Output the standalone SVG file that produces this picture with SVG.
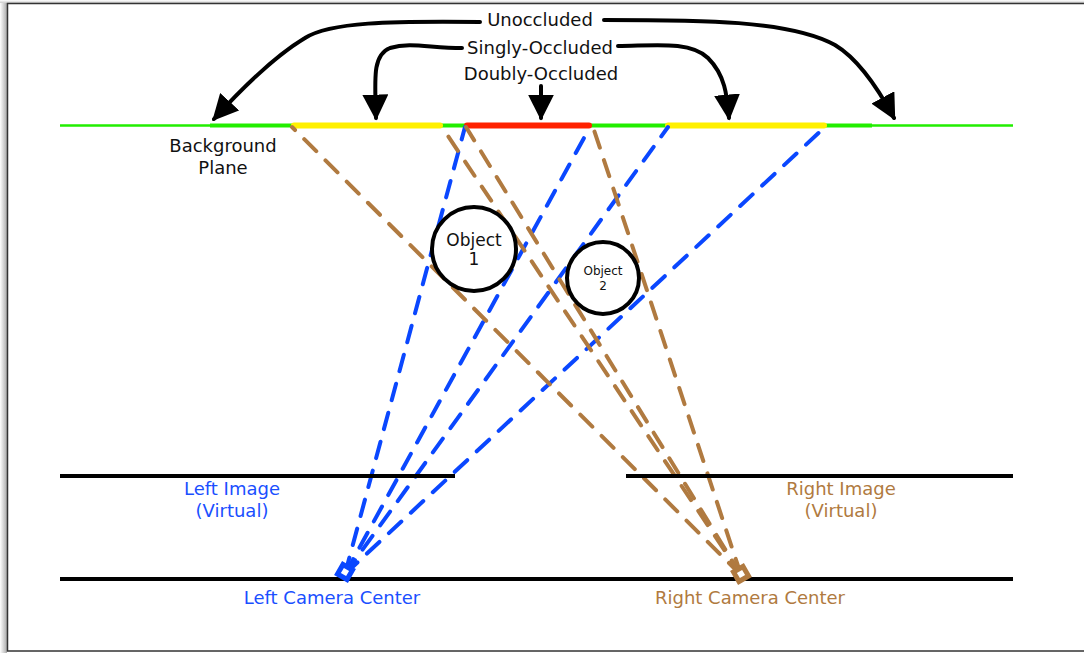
<svg xmlns="http://www.w3.org/2000/svg" width="1084" height="653" viewBox="0 0 1084 653">
<defs>
<linearGradient id="sh" x1="0" y1="0" x2="1" y2="0"><stop offset="0" stop-color="#fff"/><stop offset="1" stop-color="#aaa"/></linearGradient>
<linearGradient id="shT" x1="0" y1="0" x2="0" y2="1"><stop offset="0" stop-color="#fff"/><stop offset="1" stop-color="#ccc"/></linearGradient>
<marker id="ah" viewBox="0 0 10 10" refX="9" refY="5" markerWidth="6.5" markerHeight="6.5" orient="auto" markerUnits="strokeWidth"><path d="M0,0 L10,5 L0,10 z" fill="#000"/></marker>
</defs>
<style>
.t{font-family:"DejaVu Sans",Verdana,sans-serif;text-anchor:middle}
.blk{fill:#111;font-size:18px}
.bl{fill:#1a4fff;font-size:18px}
.br{fill:#b07a40;font-size:18px}
.arr{fill:none;stroke:#000;stroke-width:4;stroke-linecap:round;marker-end:url(#ah)}
.bd{stroke:#0a47ff;stroke-width:4;stroke-dasharray:17 13;stroke-linecap:round;fill:none}
.rd{stroke:#b07a40;stroke-width:4;stroke-dasharray:17 13;stroke-linecap:round;fill:none}
.ln{stroke:#000;stroke-width:4;fill:none}
</style>
<rect x="0" y="0" width="1084" height="653" fill="#fff"/>
<rect x="0" y="0" width="7" height="653" fill="url(#sh)"/>
<rect x="0" y="0" width="1084" height="3" fill="url(#shT)"/>
<rect x="7.5" y="3.5" width="1090" height="647.5" fill="#fff" stroke="#333" stroke-width="1.5"/>

<g id="plane">
<line x1="60" y1="125.5" x2="1013" y2="125.5" stroke="#22ee00" stroke-width="2.5"/>
<line x1="210" y1="125.5" x2="292" y2="125.5" stroke="#22ee00" stroke-width="4"/>
<line x1="440" y1="125.5" x2="466" y2="125.5" stroke="#22ee00" stroke-width="4"/>
<line x1="590" y1="125.5" x2="669" y2="125.5" stroke="#22ee00" stroke-width="4"/>
<line x1="824" y1="125.5" x2="872" y2="125.5" stroke="#22ee00" stroke-width="4"/>
<line x1="294" y1="125.5" x2="440" y2="125.5" stroke="#fff000" stroke-width="6" stroke-linecap="round"/>
<line x1="668" y1="125.5" x2="824" y2="125.5" stroke="#fff000" stroke-width="6" stroke-linecap="round"/>
<line x1="467" y1="125.5" x2="589" y2="125.5" stroke="#ff2200" stroke-width="6" stroke-linecap="round"/>
<text class="t blk" x="223" y="152">Background</text>
<text class="t blk" x="223" y="174">Plane</text>
</g>

<g id="connectors">
<line class="bd" x1="345" y1="574" x2="465" y2="127"/>
<line class="bd" x1="345" y1="574" x2="590" y2="127"/>
<line class="bd" x1="345" y1="574" x2="668" y2="127"/>
<line class="bd" x1="345" y1="574" x2="825" y2="127"/>
<line class="rd" x1="741" y1="575" x2="292" y2="127"/>
<line class="rd" x1="741" y1="575" x2="442" y2="127"/>
<line class="rd" x1="741" y1="575" x2="466" y2="127"/>
<line class="rd" x1="741" y1="575" x2="593" y2="127"/>
<path class="arr" d="M480,22 C390,21 330,22 305,38 C275,56 245,85 214,119"/>
<path class="arr" d="M604,20 C700,20 790,20 835,45 C860,60 880,92 894,118"/>
<path class="arr" d="M462,48 C430,48 410,42 390,48 C372,55 375,80 376,118"/>
<path class="arr" d="M618,46 C650,46 690,40 708,58 C725,75 727,95 729,118"/>
<path class="arr" d="M541,86 L541,118"/>
</g>

<g id="labels">
<text class="t blk" x="540" y="26">Unoccluded</text>
<text class="t blk" x="540" y="54">Singly-Occluded</text>
<text class="t blk" x="541" y="80">Doubly-Occluded</text>
</g>

<g id="object1">
<circle cx="474" cy="249" r="42" fill="#fff" stroke="#000" stroke-width="4"/>
<text class="t" x="474" y="246" font-size="17" fill="#111">Object</text>
<text class="t" x="474" y="265" font-size="17" fill="#111">1</text>
</g>
<g id="object2">
<circle cx="603" cy="278" r="36" fill="#fff" stroke="#000" stroke-width="4"/>
<text class="t" x="603" y="275" font-size="12" fill="#111">Object</text>
<text class="t" x="603" y="290" font-size="12" fill="#111">2</text>
</g>

<g id="leftImage">
<line class="ln" x1="60" y1="476" x2="455" y2="476"/>
<text class="t bl" x="232" y="495">Left Image</text>
<text class="t bl" x="232" y="517">(Virtual)</text>
</g>
<g id="rightImage">
<line class="ln" x1="626" y1="476" x2="1013" y2="476"/>
<text class="t br" x="841" y="495">Right Image</text>
<text class="t br" x="841" y="517">(Virtual)</text>
</g>

<g id="cameraLine">
<line class="ln" x1="60" y1="579" x2="1013" y2="579"/>
</g>
<g id="leftCamera">
<rect x="339.5" y="566.5" width="11" height="11" fill="#fff" stroke="#0a47ff" stroke-width="5" transform="rotate(30 345 572)"/>
<text class="t bl" x="332" y="604">Left Camera Center</text>
</g>
<g id="rightCamera">
<rect x="735.5" y="568.5" width="11" height="11" fill="#fff" stroke="#b07a40" stroke-width="5" transform="rotate(-30 741 574)"/>
<text class="t br" x="750" y="604">Right Camera Center</text>
</g>
</svg>
